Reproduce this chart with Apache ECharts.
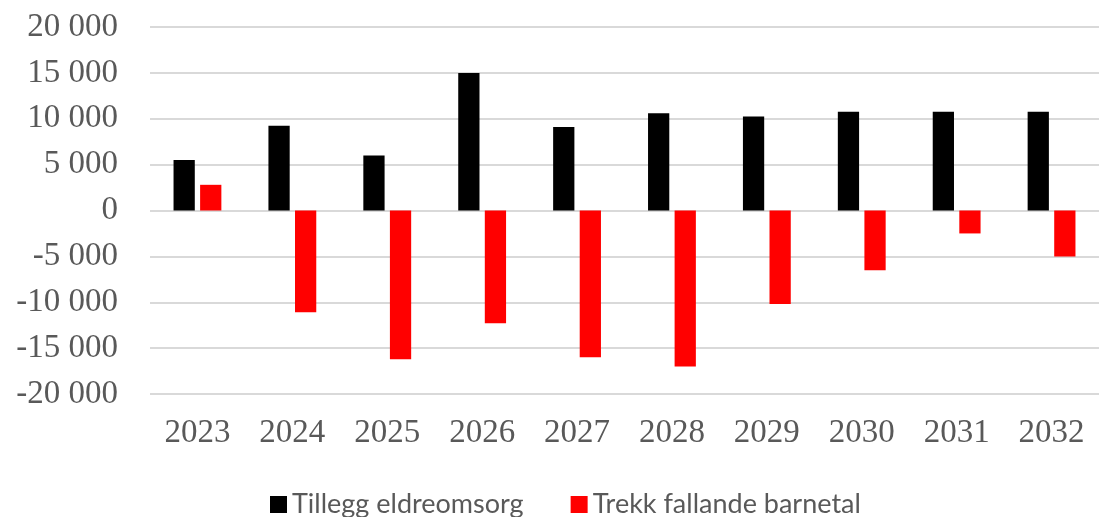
<!DOCTYPE html>
<html>
<head>
<meta charset="utf-8">
<script src="https://cdn.jsdelivr.net/npm/echarts@6/dist/echarts.min.js"></script>
<style>
  html, body { margin: 0; padding: 0; background: #fff; }
  #main { width: 1099px; height: 517px; }
</style>
</head>
<body>
<div id="main"></div>
<script>
// data
var years = ['2023', '2024', '2025', '2026', '2027', '2028', '2029', '2030', '2031', '2032'];
var tillegg = [5500, 9250, 6000, 15000, 9100, 10600, 10250, 10750, 10750, 10750];
var trekk = [2800, -11100, -16200, -12300, -16000, -17000, -10200, -6500, -2500, -5000];

// thousands split with a space, like the original
function fmt(v) {
    var s = String(Math.abs(v)).replace(/\B(?=(\d{3})+(?!\d))/g, ' ');
    return (v < 0 ? '-' : '') + s;
}

var chart = echarts.init(document.getElementById('main'));

var option = {
    backgroundColor: '#ffffff',
    animation: false,
    grid: {
        left: 150,
        top: 27,
        width: 952,
        height: 367,
        containLabel: false
    },
    legend: {
        left: 265,
        top: 486,
        icon: 'rect',
        itemWidth: 17,
        itemHeight: 17,
        itemGap: 47,
        textStyle: {
            fontFamily: 'Lato',
            fontSize: 27,
            color: '#595959'
        },
        data: ['Tillegg eldreomsorg', 'Trekk fallande barnetal']
    },
    xAxis: {
        type: 'category',
        data: years,
        axisLine: { show: false },
        axisTick: { show: false },
        axisLabel: {
            margin: 23,
            fontFamily: 'Liberation Serif',
            fontSize: 33,
            color: '#595959'
        }
    },
    yAxis: {
        type: 'value',
        min: -20000,
        max: 20000,
        interval: 5000,
        axisLine: { show: false },
        axisTick: { show: false },
        splitLine: { lineStyle: { color: '#d9d9d9', width: 2 } },
        axisLabel: {
            margin: 32,
            fontFamily: 'Liberation Serif',
            fontSize: 33,
            color: '#595959',
            formatter: fmt
        }
    },
    series: [
        {
            name: 'Tillegg eldreomsorg',
            type: 'bar',
            barWidth: '22.4%',
            barGap: '25%',
            itemStyle: { color: '#000000' },
            data: tillegg
        },
        {
            name: 'Trekk fallande barnetal',
            type: 'bar',
            barWidth: '22.4%',
            itemStyle: { color: '#ff0000' },
            data: trekk
        }
    ]
};

chart.setOption(option);
</script>
</body>
</html>
